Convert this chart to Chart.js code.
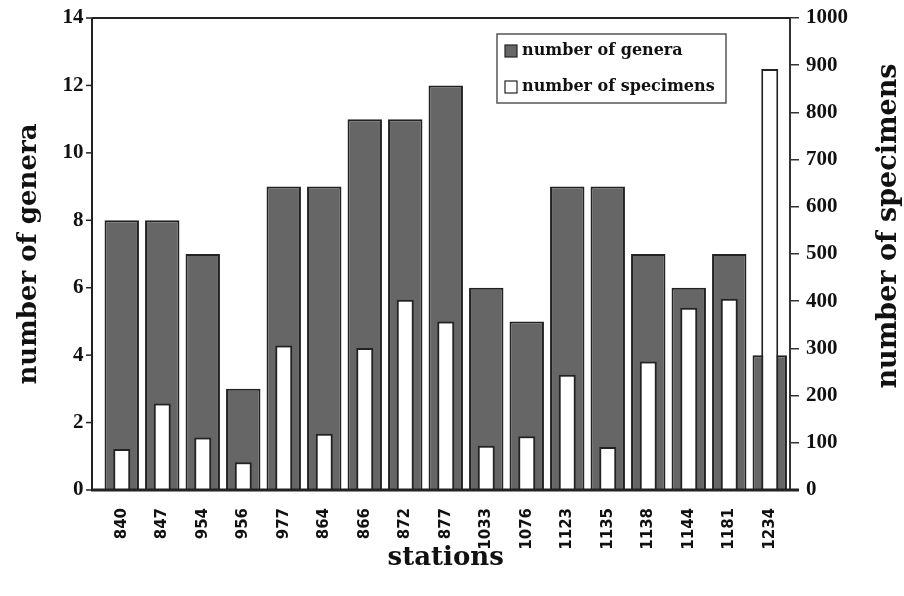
<!DOCTYPE html>
<html>
<head>
<meta charset="utf-8">
<script src="https://cdn.jsdelivr.net/npm/chart.js@4/dist/chart.umd.min.js"></script>
<style>
  html, body { margin: 0; padding: 0; background: #fff; }
  #wrap { width: 904px; height: 596px; }
</style>
</head>
<body>
<div id="wrap"><canvas id="barChart" width="904" height="596"></canvas></div>
<script>
const stations = ['840', '847', '954', '956', '977', '864', '866', '872', '877',
    '1033', '1076', '1123', '1135', '1138', '1144', '1181', '1234'];
const genera = [8, 8, 7, 3, 9, 9, 11, 11, 12, 6, 5, 9, 9, 7, 6, 7, 4];
const specimens = [87, 183, 111, 59, 306, 119, 301, 403, 357, 94, 114, 244, 91, 272, 386, 405, 892];
const legendLabels = ['number of genera', 'number of specimens'];
const rightTitle = 'number of specimens';

const serif = '"DejaVu Serif", "Liberation Serif", serif';
const times = '"Liberation Serif", serif';
const sans = '"DejaVu Sans", sans-serif';

// left axis line sits a little left of the first bar, so it is drawn here,
// together with the top frame, the right axis title and the boxed legend
const framePlugin = {
    id: 'frame',
    afterDraw(chart) {
        const ctx = chart.ctx;
        const a = chart.chartArea;
        const yScale = chart.scales.y;
        const axisX = 92;
        ctx.save();
        ctx.strokeStyle = '#222';
        ctx.lineWidth = 2;
        ctx.beginPath();
        ctx.moveTo(axisX, a.top);
        ctx.lineTo(axisX, a.bottom);
        ctx.moveTo(axisX, a.top);
        ctx.lineTo(a.right, a.top);
        ctx.stroke();
        ctx.lineWidth = 3;
        ctx.beginPath();
        ctx.moveTo(axisX - 1, a.bottom);
        ctx.lineTo(a.right + 9, a.bottom);
        ctx.stroke();
        ctx.lineWidth = 1.5;
        yScale.ticks.forEach(t => {
            const py = yScale.getPixelForValue(t.value);
            ctx.beginPath();
            ctx.moveTo(axisX - 6, py);
            ctx.lineTo(axisX, py);
            ctx.stroke();
        });

        // right axis title, reading bottom to top
        ctx.save();
        ctx.translate(889, 226);
        ctx.rotate(-Math.PI / 2);
        ctx.font = 'bold 27px ' + serif;
        ctx.fillStyle = '#111';
        ctx.textAlign = 'center';
        ctx.textBaseline = 'middle';
        ctx.fillText(rightTitle, 0, 0);
        ctx.restore();

        // legend box
        const x = 497, y = 34, w = 229, h = 69;
        ctx.fillStyle = '#fff';
        ctx.fillRect(x, y, w, h);
        ctx.strokeStyle = '#555';
        ctx.lineWidth = 1.5;
        ctx.strokeRect(x, y, w, h);

        const fills = ['#666666', '#ffffff'];
        ctx.font = 'bold 16px ' + serif;
        ctx.textBaseline = 'middle';
        legendLabels.forEach((label, i) => {
            const cy = y + 17 + i * 36;
            ctx.fillStyle = fills[i];
            ctx.fillRect(x + 8, cy - 6, 12, 12);
            ctx.strokeStyle = '#222';
            ctx.lineWidth = 1.2;
            ctx.strokeRect(x + 8, cy - 6, 12, 12);
            ctx.fillStyle = '#111';
            ctx.fillText(label, x + 25, cy);
        });
        ctx.restore();
    }
};

const ctx = document.getElementById('barChart').getContext('2d');
new Chart(ctx, {
    type: 'bar',
    data: {
        labels: stations,
        datasets: [{
            label: legendLabels[1],
            data: specimens,
            yAxisID: 'y1',
            backgroundColor: '#ffffff',
            borderColor: '#222',
            borderWidth: 2,
            grouped: false,
            categoryPercentage: 1,
            barPercentage: 0.42,
            order: 0
        }, {
            label: legendLabels[0],
            data: genera,
            yAxisID: 'y',
            backgroundColor: '#666666',
            borderColor: '#222',
            borderWidth: 2,
            grouped: false,
            categoryPercentage: 1,
            barPercentage: 0.85,
            order: 1
        }]
    },
    options: {
        responsive: false,
        animation: false,
        layout: { padding: { top: 18, left: 0, right: 0, bottom: 0 } },
        plugins: {
            legend: { display: false },
            tooltip: { enabled: false }
        },
        scales: {
            x: {
                grid: { display: false },
                border: { display: false },
                ticks: {
                    minRotation: 90,
                    maxRotation: 90,
                    padding: 10,
                    color: '#111',
                    font: { family: sans, size: 15, weight: 'bold' }
                },
                title: {
                    display: true,
                    text: 'stations',
                    color: '#111',
                    padding: { top: 0, bottom: 22 },
                    font: { family: serif, size: 26, weight: 'bold' }
                },
                afterFit(scale) {
                    scale.height = 106;
                    scale.paddingLeft = 0;
                    scale.paddingRight = 0;
                }
            },
            y: {
                position: 'left',
                min: 0,
                max: 14,
                ticks: {
                    stepSize: 2,
                    padding: 10,
                    color: '#111',
                    font: { family: times, size: 21, weight: 'bold' }
                },
                grid: { display: false },
                border: { display: false },
                title: {
                    display: true,
                    text: 'number of genera',
                    color: '#111',
                    padding: { top: 14, bottom: 0 },
                    font: { family: serif, size: 26, weight: 'bold' }
                },
                afterFit(scale) {
                    scale.width = 101.5;
                    scale.paddingTop = 0;
                    scale.paddingBottom = 0;
                }
            },
            y1: {
                position: 'right',
                min: 0,
                max: 1000,
                ticks: {
                    stepSize: 100,
                    padding: 7,
                    color: '#111',
                    font: { family: times, size: 21, weight: 'bold' },
                    callback: (v) => String(v)
                },
                grid: { drawOnChartArea: false, color: '#333', tickLength: 9, lineWidth: 1.5 },
                border: { display: true, color: '#333', width: 2 },
                afterFit(scale) {
                    scale.width = 114;
                    scale.paddingTop = 0;
                    scale.paddingBottom = 0;
                }
            }
        }
    },
    plugins: [framePlugin]
});
</script>
</body>
</html>
